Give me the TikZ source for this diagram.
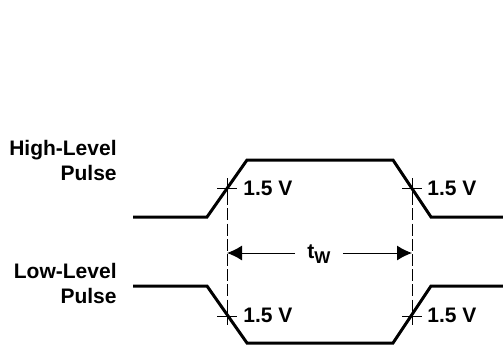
\documentclass[tikz,border=0pt]{standalone}
\usepackage{fontspec}
\setmainfont{Liberation Sans}
\usepackage{tikz}
\usetikzlibrary{calc,arrows.meta}

\begin{document}
\begin{tikzpicture}[x=0.5pt, y=-0.5pt,
    wave/.style={line width=1.5pt},
    guide/.style={line width=0.5pt, dash pattern=on 6pt off 1.6pt},
    tick/.style={line width=0.5pt},
    lbl/.style={font=\bfseries\fontsize{10.5}{12.5}\selectfont, inner sep=0pt}]
      \useasboundingbox (0, 0) rectangle (503, 345);

      % labels on the left
      \node[lbl, anchor=base east, align=right] (hi) at (117, 180) {High-Level\\Pulse};
      \node[lbl, anchor=base east, align=right] (lo) at (117, 303) {Low-Level\\Pulse};

      % the two pulses
      \draw[wave] (133, 217) -- (207, 217) -- (247, 160) -- (393, 160) -- (431, 217) -- (503, 217);
      \draw[wave] (133, 286) -- (207, 286) -- (247, 343) -- (393, 343) -- (431, 286) -- (503, 286);

      % reference lines at 1.5 V
      \coordinate (lx) at (227, 178);
      \coordinate (rx) at (412, 178);
      \draw[guide] (lx) -- (227, 325);
      \draw[guide] (rx) -- (412, 325);
      \draw[tick] (217, 188) -- (237, 188);
      \draw[tick] (217, 316) -- (237, 316);
      \draw[tick] (402, 188) -- (422, 188);
      \draw[tick] (402, 316) -- (422, 316);
      \draw[tick] (227, 178) -- (227, 198);
      \draw[tick] (412, 178) -- (412, 198);
      \draw[tick] (227, 306) -- (227, 325);
      \draw[tick] (412, 306) -- (412, 325);

      \node[lbl, anchor=base west] (v1) at (243, 195.5) {1.5 V};
      \node[lbl, anchor=base west] (v2) at (427, 195.5) {1.5 V};
      \node[lbl, anchor=base west] (v3) at (243, 322.5) {1.5 V};
      \node[lbl, anchor=base west] (v4) at (427, 322.5) {1.5 V};

      % pulse width
      \node[lbl, inner xsep=6pt] (tw) at (319, 254) {t\raisebox{-0.45ex}{\fontsize{8.5}{10}\selectfont W}};
      \draw[tick, -{Latex[length=7.5pt, width=7.5pt]}] (tw.west |- 0, 253) -- (lx |- 0, 253);
      \draw[tick, -{Latex[length=7.5pt, width=7.5pt]}] (tw.east |- 0, 253) -- (rx |- 0, 253);
    \end{tikzpicture}
\end{document}
